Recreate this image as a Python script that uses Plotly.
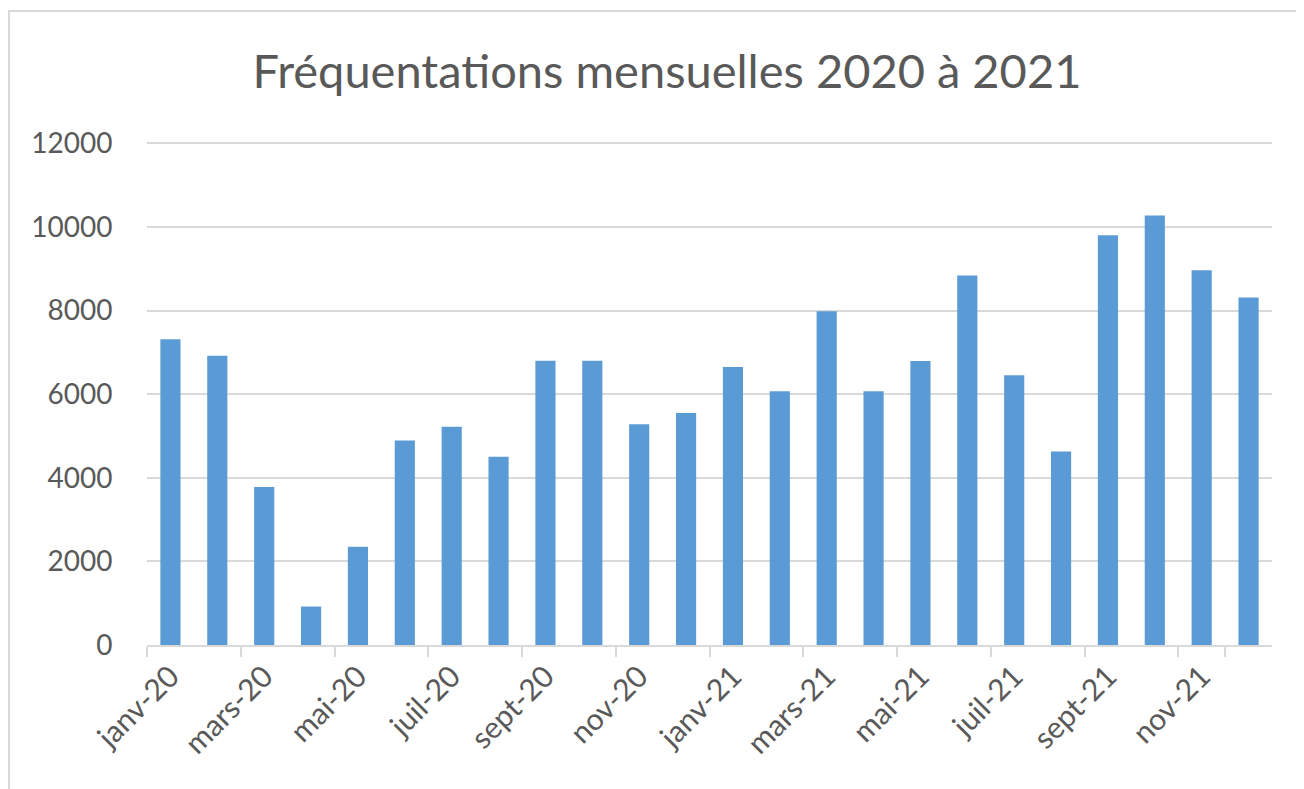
import plotly.graph_objects as go

months = ["janv-20", "févr-20", "mars-20", "avr-20", "mai-20", "juin-20",
          "juil-20", "août-20", "sept-20", "oct-20", "nov-20", "déc-20",
          "janv-21", "févr-21", "mars-21", "avr-21", "mai-21", "juin-21",
          "juil-21", "août-21", "sept-21", "oct-21", "nov-21", "déc-21"]
visits = [7310, 6920, 3780, 920, 2350, 4890, 5220, 4500, 6800, 6800, 5280, 5550,
          6650, 6070, 7980, 6070, 6790, 8840, 6450, 4630, 9800, 10270, 8960, 8310]
y_ticks = [0, 2000, 4000, 6000, 8000, 10000, 12000]
y_tick_text = ["0", "2000", "4000", "6000", "8000", "10000", "12000"]
title_text = "Fréquentations mensuelles 2020 à 2021"

label_months = months[::2]
n = len(months)

TEXT = "#595959"
GRID = "#d9d9d9"
FONT = "Lato"

# page body has an 8px default margin: figure sized so it ends at the viewport edge
W, H = 1296, 781
L, T = 139, 134
R, B = 32, 144

fig = go.Figure()
fig.add_trace(go.Bar(x=months, y=visits, marker=dict(color="#5b9bd5", line=dict(width=0)),
                     width=0.43, showlegend=False))

fig.update_layout(
    width=W, height=H,
    paper_bgcolor="white", plot_bgcolor="white",
    margin=dict(l=L, r=R, t=T, b=B),
    font=dict(family=FONT, color=TEXT),
    title=dict(text=title_text, x=659 / W, xanchor="center", xref="container",
               y=1 - 64 / H, yanchor="middle", yref="container",
               font=dict(family=FONT, size=47, color=TEXT)),
    xaxis=dict(type="category", categoryorder="array", categoryarray=months,
               range=[-0.5, n - 0.5],
               tickmode="array", tickvals=label_months, ticktext=label_months,
               tickson="boundaries",
               tickangle=-45, ticks="outside", ticklen=10, tickcolor=GRID, tickwidth=1.5,
               tickfont=dict(family=FONT, size=30, color=TEXT),
               showline=True, linecolor=GRID, linewidth=1.5, showgrid=False),
    yaxis=dict(range=[0, 12030], tickmode="array", tickvals=y_ticks, ticktext=y_tick_text,
               ticks="outside", ticklen=28, tickcolor="rgba(0,0,0,0)",
               tickfont=dict(family=FONT, size=28, color=TEXT),
               showgrid=True, gridcolor=GRID, gridwidth=1.5,
               zeroline=False, showline=False),
    bargap=0.57,
)

# chart-area frame (light grey border; only top and left fall inside the view)
x_left = (1 - L) / (W - L - R)
y_top = (H - B - 3) / (H - T - B)
fig.add_shape(type="rect", xref="paper", yref="paper",
              x0=x_left, x1=1.3, y0=-0.6, y1=y_top,
              line=dict(color=GRID, width=2), fillcolor="rgba(0,0,0,0)", layer="below")

fig.write_html("out.html")
